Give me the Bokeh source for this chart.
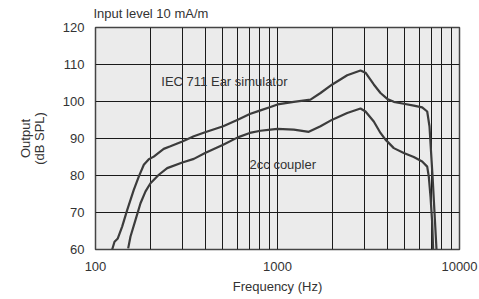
from bokeh.plotting import figure
from bokeh.models import FixedTicker, Label, Range1d
from bokeh.embed import file_html
from bokeh.resources import INLINE

# Data (frequency in Hz, output in dB SPL)
ear_freq = [123.5, 127.2, 132.6, 140.1, 149.4, 162.3, 172.9, 184.3, 196.3, 209, 237, 258,
            300, 347, 400, 503, 605, 704, 806, 915, 1000, 1229, 1518, 1723, 2000, 2415,
            2858, 3045, 3381, 3680, 4010, 4355, 4943, 5608, 6237, 6646, 6840, 7130, 7475]
ear_db = [60.0, 62.1, 63.0, 66.2, 70.7, 76.1, 79.7, 82.9, 84.4, 85.1, 87.2, 87.9,
          89.2, 90.6, 91.7, 93.3, 95.1, 96.6, 97.6, 98.5, 99.2, 99.9, 100.5, 102.3, 104.6, 107.1,
          108.4, 107.8, 104.6, 102.3, 100.7, 99.9, 99.4, 98.9, 98.4, 97.3, 93.3, 78.8, 60.0]

cc_freq = [151.2, 155.7, 165.9, 176.7, 188.3, 200.5, 222.8, 247.7, 300, 347, 400, 503,
           605, 704, 806, 915, 1000, 1229, 1486, 1723, 2000, 2415, 2858, 3045, 3381, 3680,
           3920, 4355, 4943, 5608, 6237, 6646, 6780, 6930, 7080, 7165]
cc_db = [60.3, 63.5, 68.0, 72.5, 75.7, 77.9, 80.2, 82.0, 83.5, 84.5, 86.1, 88.3,
         90.3, 91.5, 92.1, 92.4, 92.6, 92.4, 91.8, 93.3, 95.1, 96.9, 98.1, 97.3, 94.6, 91.5,
         89.7, 87.4, 86.1, 85.0, 83.8, 82.4, 79.7, 74.3, 67.2, 60.0]

x_major = [100, 1000, 10000]
x_grid = [200, 300, 400, 500, 600, 700, 800, 900, 1000,
          2000, 3000, 4000, 5000, 6000, 7000, 8000, 9000]
y_ticks = [60, 70, 80, 90, 100, 110, 120]
y_grid = [70, 80, 90, 100, 110]

FONT = "Liberation Sans"
TXT = "#333333"
FS = "13px"

p = figure(frame_width=364, frame_height=222, x_axis_type="log", output_backend="svg",
           toolbar_location=None, title="Input level 10 mA/m",
           x_range=Range1d(100, 10000), y_range=Range1d(60, 120),
           min_border_left=95, min_border_right=20, min_border_top=27, min_border_bottom=50)

p.background_fill_color = "#ebebeb"
p.border_fill_color = "white"
p.outline_line_color = "#444444"
p.outline_line_width = 1.5

p.title.text_font = FONT
p.title.text_font_size = FS
p.title.text_font_style = "normal"
p.title.text_color = TXT
p.title.align = "left"
p.title.offset = -2
p.title.standoff = 10
p.title.vertical_align = "top"
p.title.text_line_height = 0.9

p.xaxis.ticker = FixedTicker(ticks=x_major)
p.xaxis.major_label_overrides = {100: "100", 1000: "1000", 10000: "10000"}
p.yaxis.ticker = FixedTicker(ticks=y_ticks)
p.xgrid.ticker = FixedTicker(ticks=x_grid)
p.ygrid.ticker = FixedTicker(ticks=y_grid)
for g in (p.xgrid, p.ygrid):
    g.grid_line_color = "#1a1a1a"
    g.grid_line_width = 1
    g.grid_line_alpha = 1

for ax in (p.xaxis, p.yaxis):
    ax.axis_line_color = None
    ax.major_tick_line_color = None
    ax.minor_tick_line_color = None
    ax.major_tick_out = 0
    ax.major_tick_in = 0
    ax.minor_tick_out = 0
    ax.minor_tick_in = 0
    ax.major_label_text_font = FONT
    ax.major_label_text_font_size = FS
    ax.major_label_text_color = TXT
    ax.axis_label_text_font = FONT
    ax.axis_label_text_font_size = FS
    ax.axis_label_text_font_style = "normal"
    ax.axis_label_text_color = TXT

p.xaxis.axis_label = "Frequency (Hz)"
p.xaxis.major_label_standoff = 12
p.xaxis.axis_label_standoff = 5
p.yaxis.axis_label = "Output\n(dB SPL)"
p.yaxis.axis_label_text_line_height = 0.95
p.yaxis.major_label_standoff = 11
p.yaxis.axis_label_standoff = 13

p.line(ear_freq, ear_db, line_color="#3c3c3c", line_width=2.2)
p.line(cc_freq, cc_db, line_color="#3c3c3c", line_width=2.2)

p.add_layout(Label(x=230, y=105.4, text="IEC 711 Ear simulator", text_font=FONT,
                   text_font_size=FS, text_color=TXT, text_baseline="middle"))
p.add_layout(Label(x=702, y=82.9, text="2cc coupler", text_font=FONT,
                   text_font_size=FS, text_color=TXT, text_baseline="middle"))

open("out.html", "w").write(file_html(p, INLINE))
